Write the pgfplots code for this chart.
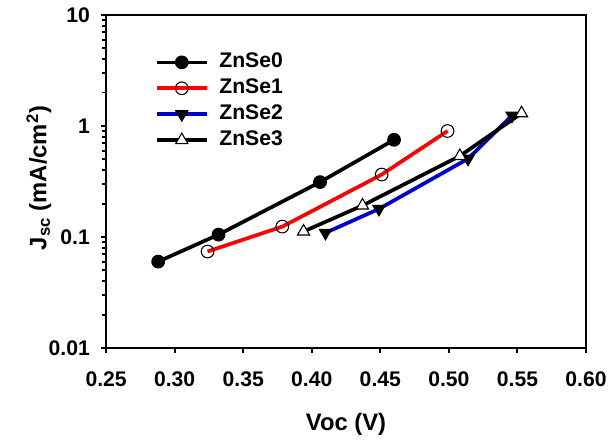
\documentclass[border=0pt]{standalone}
\usepackage{fontspec}
\setmainfont{Liberation Sans}
\usepackage{pgfplots}
\pgfplotsset{compat=1.18}
\begin{document}
\begin{tikzpicture}
\begin{axis}[
  name=ax,
  scale only axis,
  width=363pt, height=252pt,
  xmin=0.25, xmax=0.60,
  ymode=log, ymin=0.01, ymax=10,
  xtick={0.25,0.30,...,0.60},
  xticklabels={0.25,0.30,0.35,0.40,0.45,0.50,0.55,0.60},
  ytick={0.01,0.1,1,10},
  yticklabels={0.01,0.1,1,10},
  minor tick num=0,
  tick align=outside,
  tick pos=left,
  major tick length=3.75pt,
  axis line style={line width=1.8pt},
  every tick/.style={line width=1.5pt, black},
  tick label style={font=\fontsize{16}{18}\selectfont\bfseries},
  x tick label style={yshift=-11pt},
  y tick label style={xshift=-5pt},
  /pgf/number format/assume math mode=true,
  xlabel={\fontsize{18}{20}\selectfont\bfseries Voc (V)},
  ylabel={\fontsize{18}{20}\selectfont\bfseries J\textsubscript{sc} (mA/cm\textsuperscript{2})},
  xlabel style={at={(axis description cs:0.5,-0.228)}, anchor=center},
  ylabel style={at={(axis description cs:-0.14,0.51)}, anchor=center},
  legend style={draw=none, fill=none, inner sep=0pt, at={(axis description cs:0.101,0.892)}, anchor=north west,
    font=\fontsize{16}{18}\selectfont\bfseries, row sep=2.6pt, column sep=7pt,
    nodes={inner sep=1pt, text height=11.5pt, text depth=3.5pt}},
  legend cell align=left,
  legend image code/.code={%
    \draw[line width=2.8pt] (0pt,0pt) -- (38pt,0pt);
    \draw[only marks, mark repeat=1] plot coordinates {(19pt,0pt)};},
  every axis plot post/.append style={line width=2.8pt},
]
\addplot[black, mark=*, mark size=4.8pt, mark options={fill=black, line width=0.8pt}]
  coordinates {(0.288,0.060)(0.332,0.105)(0.406,0.312)(0.460,0.75)};
\addlegendentry{ZnSe0}
\addplot[red, mark=o, mark size=4.8pt, mark options={draw=black, fill=white, line width=0.8pt}]
  coordinates {(0.324,0.074)(0.3785,0.124)(0.451,0.365)(0.499,0.90)};
\addlegendentry{ZnSe1}
\addplot[blue!80!black, mark=triangle*, mark size=5.3pt, mark options={rotate=180, draw=black, fill=black, line width=0.8pt}]
  coordinates {(0.410,0.109)(0.449,0.179)(0.514,0.507)(0.546,1.24)};
\addlegendentry{ZnSe2}
\addplot[black, mark=triangle*, mark size=5.3pt, mark options={draw=black, fill=white, line width=0.8pt}]
  coordinates {(0.394,0.112)(0.437,0.192)(0.508,0.536)(0.553,1.30)};
\addlegendentry{ZnSe3}
\end{axis}
\path ([shift={(-80.25pt,-61.5pt)}]ax.south west) rectangle ([shift={(15pt,11.25pt)}]ax.north east);
\end{tikzpicture}
\end{document}
